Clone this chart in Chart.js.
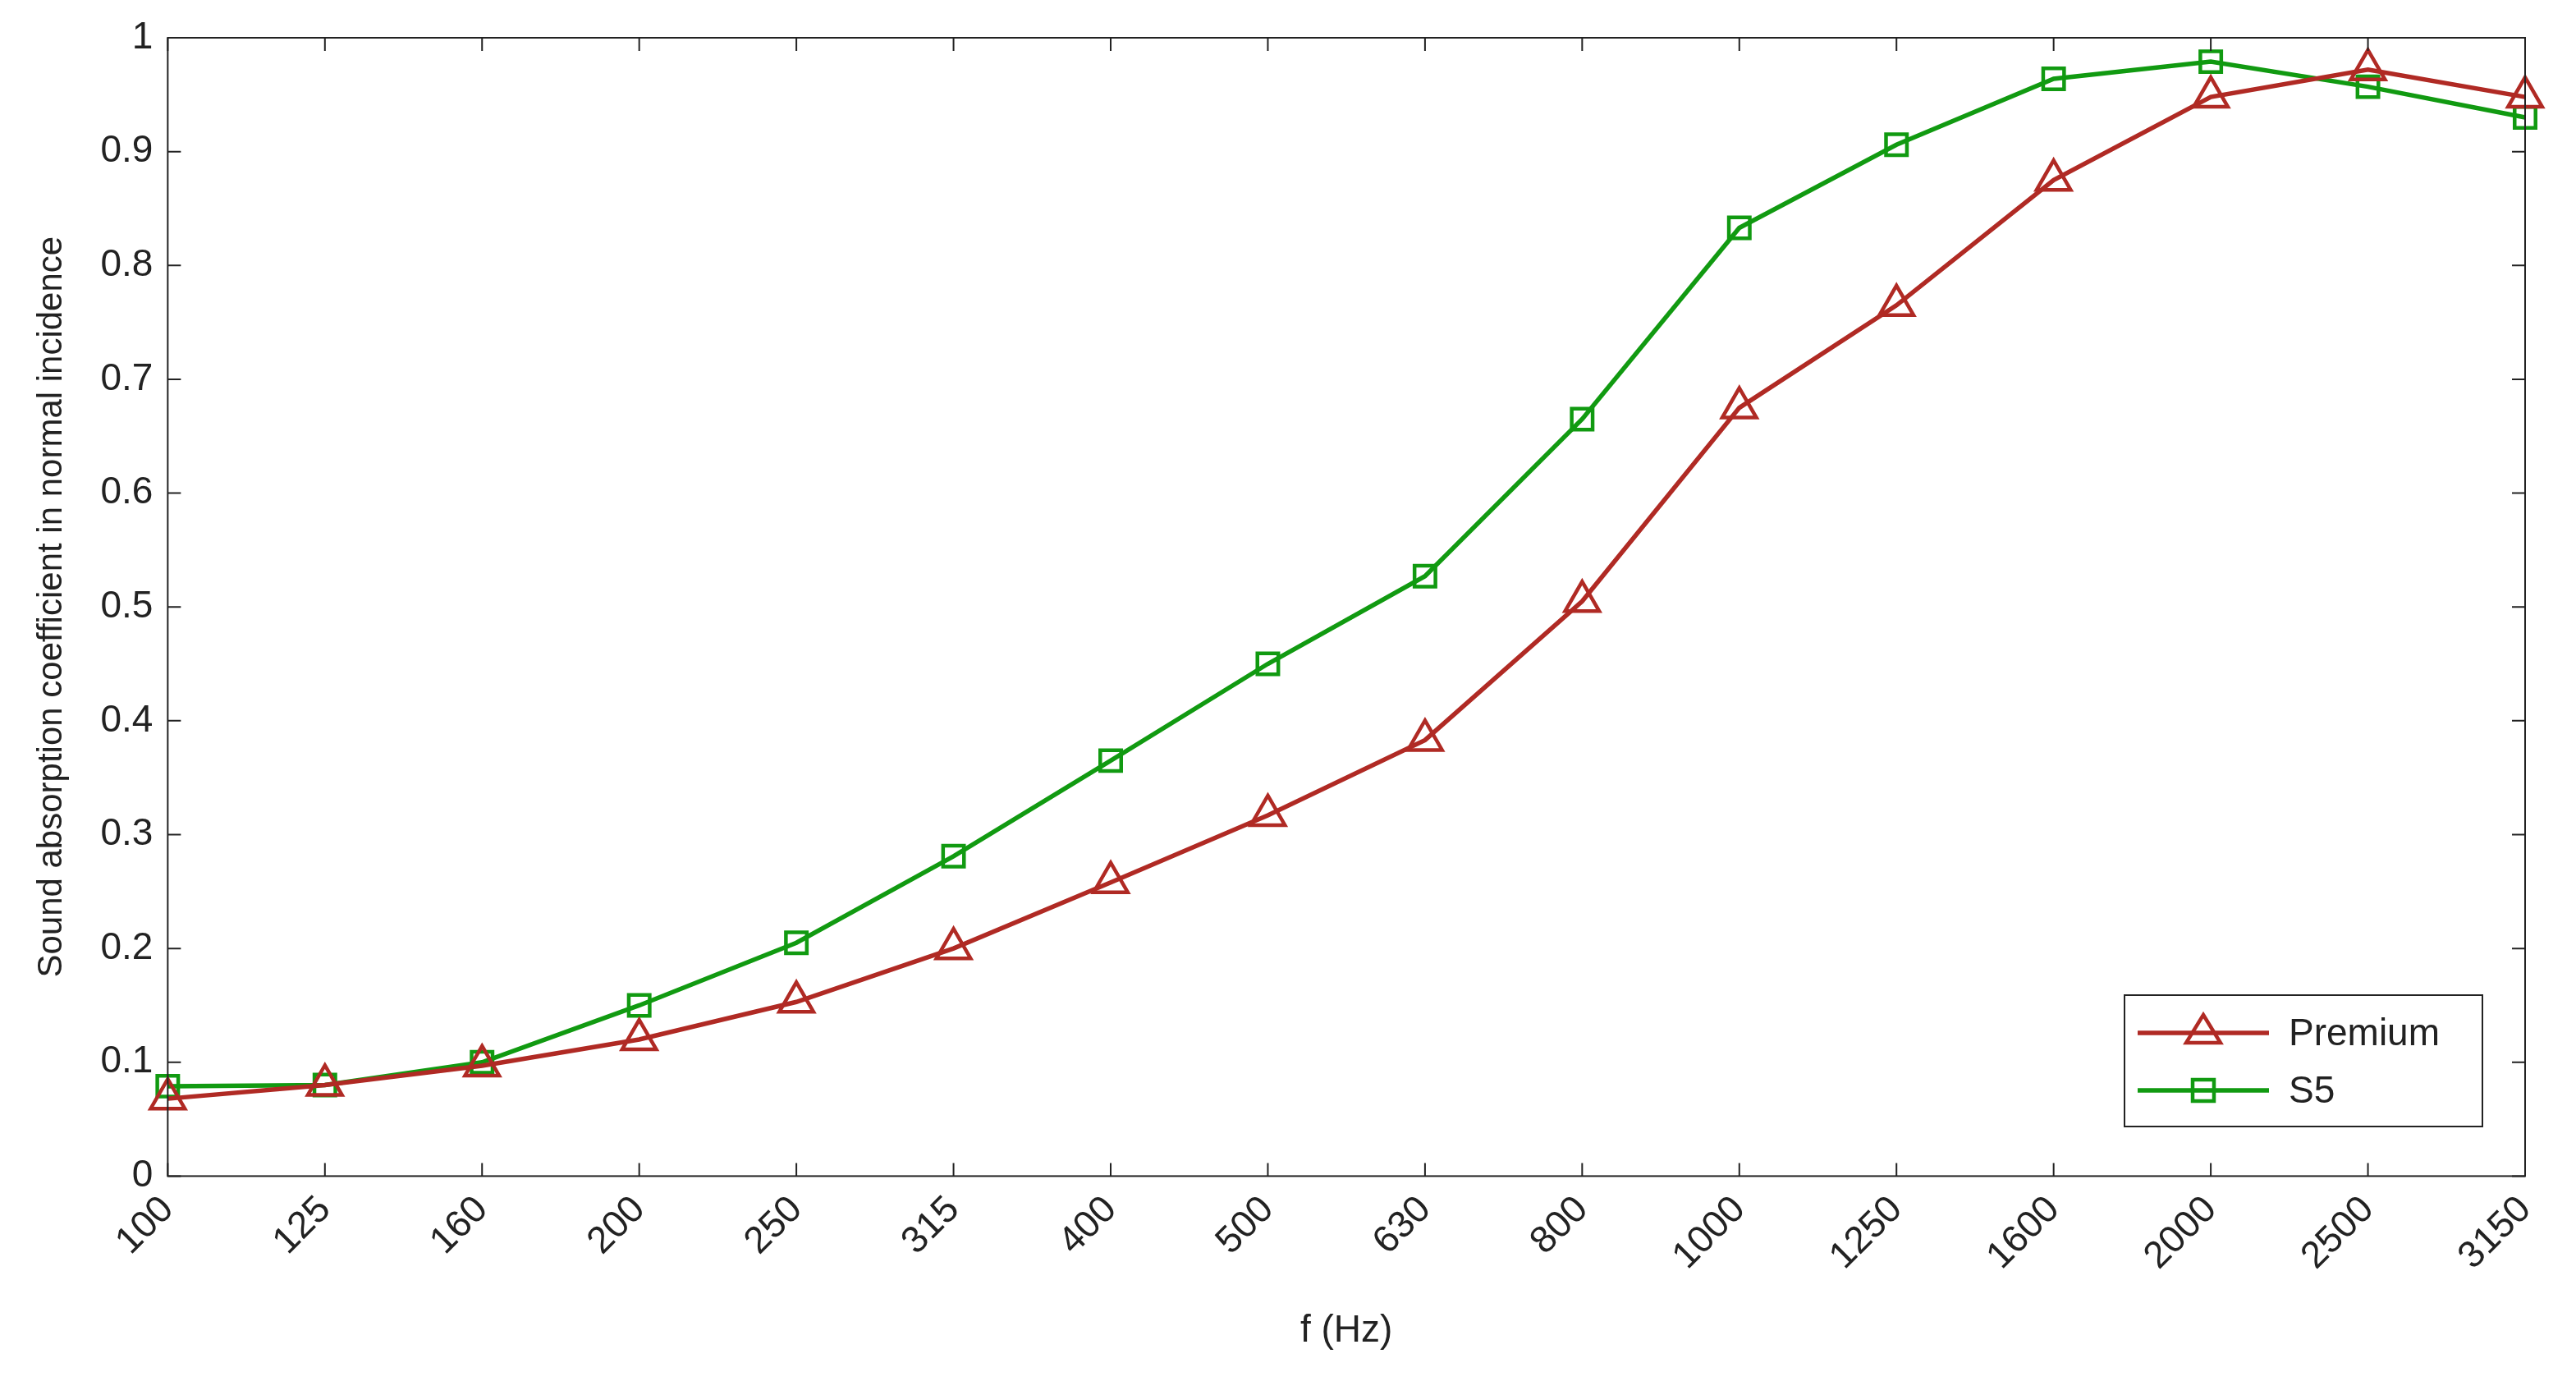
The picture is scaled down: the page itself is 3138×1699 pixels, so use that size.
<!DOCTYPE html>
<html><head><meta charset="utf-8">
<script src="https://cdn.jsdelivr.net/npm/chart.js@4"></script>
<style>html,body{margin:0;padding:0;background:#fff}#w{width:3138px;height:1699px}</style>
</head><body><div id="w"><canvas id="c"></canvas></div>
<script>
const freqs = ["100","125","160","200","250","315","400","500","630","800","1000","1250","1600","2000","2500","3150"];
const premium = [0.068,0.080,0.097,0.120,0.153,0.200,0.258,0.317,0.383,0.505,0.675,0.765,0.875,0.948,0.972,0.948];
const s5 = [0.079,0.080,0.100,0.150,0.205,0.281,0.365,0.450,0.527,0.665,0.833,0.906,0.964,0.979,0.957,0.930];
const RED = "#b02a24", GREEN = "#119a11";
const FONT = "'Liberation Sans', Arial, sans-serif";

const frame = {
  id: "frame",
  afterDraw(ch) {
    const c = ch.ctx, a = ch.chartArea, x = ch.scales.x, y = ch.scales.y;
    c.save();
    c.strokeStyle = "#222"; c.lineWidth = 2;
    c.strokeRect(a.left, a.top, a.right - a.left, a.bottom - a.top);
    const L = 16;
    c.beginPath();
    x.ticks.forEach((t, i) => { const p = x.getPixelForTick(i);
      c.moveTo(p, a.bottom); c.lineTo(p, a.bottom - L); c.moveTo(p, a.top); c.lineTo(p, a.top + L); });
    y.ticks.forEach((t, i) => { const p = y.getPixelForTick(i);
      c.moveTo(a.left, p); c.lineTo(a.left + L, p); c.moveTo(a.right, p); c.lineTo(a.right - L, p); });
    c.stroke();
    const bx = 2588, by = 1212, bw = 436, bh = 160;
    c.fillStyle = "#fff"; c.fillRect(bx, by, bw, bh);
    c.strokeStyle = "#222"; c.lineWidth = 2; c.strokeRect(bx, by, bw, bh);
    ch.data.datasets.forEach((d, i) => {
      const yy = by + 46 + i * 70;
      c.strokeStyle = d.borderColor; c.lineWidth = 5.5;
      c.beginPath(); c.moveTo(bx + 16, yy); c.lineTo(bx + 176, yy); c.stroke();
      c.lineWidth = 4.5;
      if (d.pointStyle === "triangle") {
        const r = 22; c.beginPath();
        c.moveTo(bx + 96, yy - r); c.lineTo(bx + 96 + r * 0.95, yy + r * 0.55); c.lineTo(bx + 96 - r * 0.95, yy + r * 0.55); c.closePath(); c.stroke();
      } else { c.strokeRect(bx + 96 - 13, yy - 13, 26, 26); }
      c.fillStyle = "#222"; c.font = "46px " + FONT; c.textBaseline = "middle";
      c.fillText(d.label, bx + 200, yy + 2);
    });
    c.restore();
  }
};

new Chart(document.getElementById("c"), {
  type: "line",
  data: { labels: freqs, datasets: [
    { label: "Premium", data: premium, borderColor: RED, borderWidth: 5.5, pointStyle: "triangle",
      pointRadius: 24, pointBorderWidth: 4.5, pointBackgroundColor: "rgba(0,0,0,0)", pointBorderColor: RED, tension: 0 },
    { label: "S5", data: s5, borderColor: GREEN, borderWidth: 5.5, pointStyle: "rect",
      pointRadius: 18, pointBorderWidth: 4.5, pointBackgroundColor: "rgba(0,0,0,0)", pointBorderColor: GREEN, tension: 0 }
  ]},
  options: {
    responsive: true, maintainAspectRatio: false, animation: false, devicePixelRatio: 1,
    layout: { padding: { left: 34, right: 62, top: 46, bottom: 46 } },
    plugins: { legend: { display: false }, tooltip: { enabled: false } },
    scales: {
      x: { offset: false, grid: { display: false, drawTicks: false }, border: { display: false },
        ticks: { color: "#222", font: { size: 46, family: FONT }, maxRotation: 45, minRotation: 45, padding: 14 },
        title: { display: true, text: "f (Hz)", color: "#222", font: { size: 46, family: FONT }, padding: { top: 22 } } },
      y: { min: 0, max: 1, grid: { display: false, drawTicks: false }, border: { display: false },
        ticks: { stepSize: 0.1, color: "#222", font: { size: 46, family: FONT }, padding: 18,
          callback: v => Math.round(v * 10) / 10 + "" },
        title: { display: true, text: "Sound absorption coefficient in normal incidence", color: "#222", font: { size: 42, family: FONT }, padding: { bottom: 16 } } }
    }
  },
  plugins: [frame]
});
</script></body></html>
